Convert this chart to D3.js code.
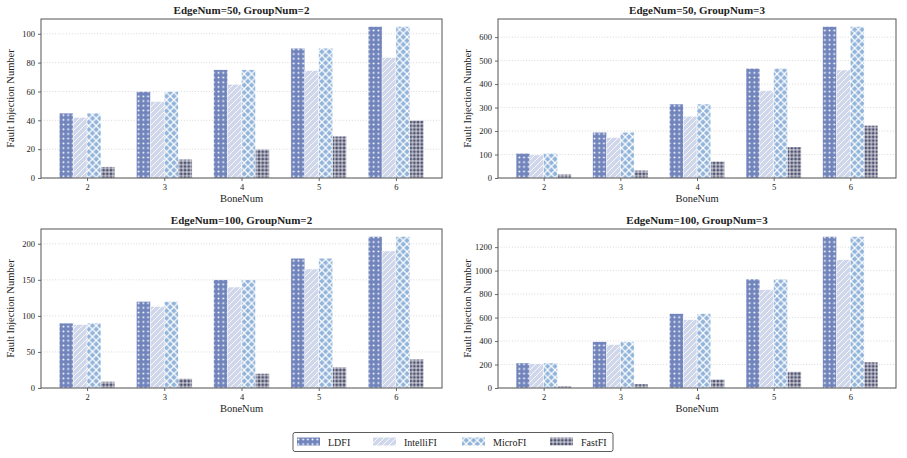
<!DOCTYPE html>
<html>
<head>
<meta charset="utf-8">
<script src="https://cdn.jsdelivr.net/npm/d3@7"></script>
<style>
  body { margin: 0; background: #fff; }
  text { font-family: "Liberation Serif", "Times New Roman", serif; fill: #222; }
</style>
</head>
<body>
<svg id="chart" width="907" height="458"></svg>
<script>
// x categories and series
var boneNums = [2, 3, 4, 5, 6];
var methods = ["LDFI", "IntelliFI", "MicroFI", "FastFI"];

// EdgeNum=50, GroupNum=2
var e50g2LDFI = [45, 60, 75, 90, 105];
var e50g2Intelli = [42, 53, 65, 74.5, 83.5];
var e50g2Micro = [45, 60, 75, 90, 105];
var e50g2Fast = [7.7, 13, 20, 29, 40];

// EdgeNum=50, GroupNum=3
var e50g3LDFI = [105, 195, 315, 467, 645];
var e50g3Intelli = [98, 172, 263, 372, 460];
var e50g3Micro = [105, 195, 315, 467, 645];
var e50g3Fast = [16, 33, 71, 132, 224];

// EdgeNum=100, GroupNum=2
var e100g2LDFI = [90, 120, 150, 180, 210];
var e100g2Intelli = [88, 113, 140, 165, 190];
var e100g2Micro = [90, 120, 150, 180, 210];
var e100g2Fast = [9, 13, 20, 29, 40];

// EdgeNum=100, GroupNum=3
var e100g3LDFI = [213, 394, 633, 928, 1290];
var e100g3Intelli = [207, 369, 582, 837, 1092];
var e100g3Micro = [213, 394, 633, 928, 1290];
var e100g3Fast = [17, 34, 74, 139, 221];

var titles = ["EdgeNum=50, GroupNum=2", "EdgeNum=50, GroupNum=3",
              "EdgeNum=100, GroupNum=2", "EdgeNum=100, GroupNum=3"];

var panelData = [
  [e50g2LDFI, e50g2Intelli, e50g2Micro, e50g2Fast],
  [e50g3LDFI, e50g3Intelli, e50g3Micro, e50g3Fast],
  [e100g2LDFI, e100g2Intelli, e100g2Micro, e100g2Fast],
  [e100g3LDFI, e100g3Intelli, e100g3Micro, e100g3Fast]
];

var colors = ["#7184bc", "#d0d7ea", "#92b4da", "#4f5270"];

var svg = d3.select("#chart");
var defs = svg.append("defs");

// hatch patterns, one per method
function makePattern(id, size, bg, draw) {
  var p = defs.append("pattern")
    .attr("id", id)
    .attr("patternUnits", "userSpaceOnUse")
    .attr("width", size).attr("height", size);
  p.append("rect").attr("width", size).attr("height", size).attr("fill", bg);
  draw(p, size);
}

makePattern("hatch0", 4.7, colors[0], function(p, s) {
  p.append("circle").attr("cx", s / 2).attr("cy", s / 2).attr("r", 1.0).attr("fill", "#fff");
});
makePattern("hatch1", 6, colors[1], function(p, s) {
  p.append("path").attr("d", "M0," + s + "L" + s + ",0M-1,1L1,-1M" + (s - 1) + "," + (s + 1) + "L" + (s + 1) + "," + (s - 1))
    .attr("stroke", "#fff").attr("stroke-width", 1).attr("stroke-opacity", 0.85);
});
makePattern("hatch2", 7.4, colors[2], function(p, s) {
  p.append("path").attr("d", "M0,0L" + s + "," + s + "M0," + s + "L" + s + ",0")
    .attr("stroke", "#fff").attr("stroke-width", 1.2);
});
makePattern("hatch3", 3.7, colors[3], function(p, s) {
  p.append("path").attr("d", "M0," + (s / 2) + "H" + s + "M" + (s / 2) + ",0V" + s)
    .attr("stroke", "#fff").attr("stroke-width", 0.85).attr("stroke-opacity", 0.9);
});

var boxes = [
  {x0: 41, x1: 442, y0: 19, y1: 178},
  {x0: 498, x1: 896, y0: 19, y1: 178},
  {x0: 41, x1: 442, y0: 229, y1: 388},
  {x0: 498, x1: 896, y0: 229, y1: 388}
];

var barW = 0.18;

panelData.forEach(function(series, pi) {
  var b = boxes[pi];
  var g = svg.append("g");

  var ymax = d3.max(series, function(s) { return d3.max(s); }) * 1.05;
  var x = d3.scaleLinear().domain([1.404, 6.596]).range([b.x0, b.x1]);
  var y = d3.scaleLinear().domain([0, ymax]).range([b.y1, b.y0]);
  var yTicks = y.ticks(6);

  // grid
  g.selectAll(".grid").data(yTicks).enter().append("line")
    .attr("x1", b.x0).attr("x2", b.x1)
    .attr("y1", function(d) { return y(d); }).attr("y2", function(d) { return y(d); })
    .attr("stroke", "#c8c8c8").attr("stroke-width", 0.7)
    .attr("stroke-dasharray", "1,1.8");

  // bars
  series.forEach(function(vals, si) {
    g.selectAll(".bar" + si).data(vals).enter().append("rect")
      .attr("x", function(d, i) { return x(boneNums[i] + (si - 1.5) * barW - barW / 2); })
      .attr("width", x(barW) - x(0))
      .attr("y", function(d) { return y(d); })
      .attr("height", function(d) { return y(0) - y(d); })
      .attr("fill", "url(#hatch" + si + ")")
      .attr("stroke", "#fff").attr("stroke-width", 0.4);
  });

  // axes
  var xAxis = d3.axisBottom(x).tickValues(boneNums).tickSize(3).tickPadding(3)
    .tickFormat(d3.format("d"));
  var yAxis = d3.axisLeft(y).tickValues(yTicks).tickSize(3).tickPadding(3)
    .tickFormat(d3.format("d"));

  var gx = g.append("g").attr("transform", "translate(0," + b.y1 + ")").call(xAxis);
  var gy = g.append("g").attr("transform", "translate(" + b.x0 + ",0)").call(yAxis);
  [gx, gy].forEach(function(a) {
    a.attr("font-family", "'Liberation Serif', serif").attr("font-size", 8.5);
    a.select(".domain").remove();
    a.selectAll("line").attr("stroke", "#444").attr("stroke-width", 0.8);
    a.selectAll("text").attr("fill", "#222");
  });

  // frame
  g.append("rect").attr("x", b.x0).attr("y", b.y0)
    .attr("width", b.x1 - b.x0).attr("height", b.y1 - b.y0)
    .attr("fill", "none").attr("stroke", "#555").attr("stroke-width", 1);

  g.append("text").attr("x", (b.x0 + b.x1) / 2).attr("y", b.y0 - 5)
    .attr("text-anchor", "middle").style("font-size", "11px").style("font-weight", "bold")
    .text(titles[pi]);

  g.append("text").attr("x", (b.x0 + b.x1) / 2).attr("y", b.y1 + 24)
    .attr("text-anchor", "middle").style("font-size", "10.5px").text("BoneNum");

  g.append("text")
    .attr("transform", "translate(" + (b.x0 - 27) + "," + ((b.y0 + b.y1) / 2) + ") rotate(-90)")
    .attr("text-anchor", "middle").style("font-size", "10.5px").text("Fault Injection Number");
});

// legend
var legend = svg.append("g");
legend.append("rect").attr("x", 293).attr("y", 432.5).attr("width", 320).attr("height", 19)
  .attr("rx", 2).attr("fill", "#fff").attr("stroke", "#333").attr("stroke-width", 0.8);
var legX = [297, 373, 462, 550];
methods.forEach(function(m, i) {
  legend.append("rect").attr("x", legX[i]).attr("y", 437.5).attr("width", 23).attr("height", 8)
    .attr("fill", "url(#hatch" + i + ")");
  legend.append("text").attr("x", legX[i] + 31).attr("y", 445.5)
    .style("font-size", "10px").text(m);
});
</script>
</body>
</html>
